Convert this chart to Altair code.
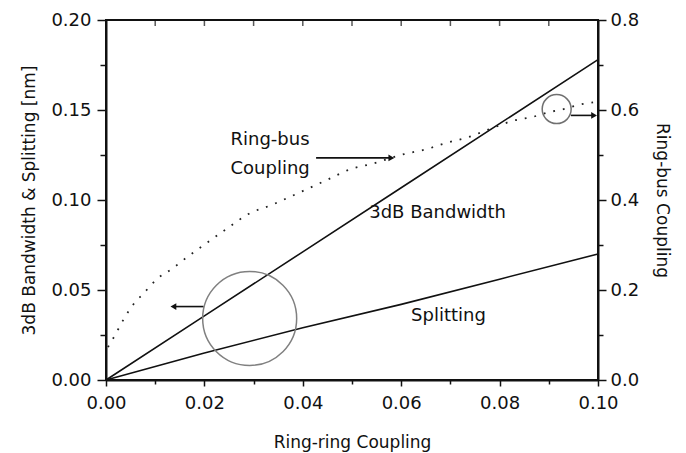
import altair as alt
import pandas as pd

# ---- data ----
coupling = [0.0, 0.02, 0.04, 0.06, 0.08, 0.10]
bandwidth = [0.0, 0.0356, 0.0712, 0.1068, 0.1424, 0.178]
splitting = [0.0, 0.015, 0.029, 0.042, 0.056, 0.070]

rb_x = [0.0004, 0.0018, 0.0037, 0.0057, 0.0076, 0.0104, 0.0134, 0.0167, 0.019,
        0.0253, 0.0288, 0.0339, 0.0376, 0.041, 0.045, 0.0498, 0.0539, 0.0606,
        0.0655, 0.0686, 0.0737, 0.079, 0.083, 0.0865, 0.090, 0.093, 0.0967, 0.099]
rb_y = [0.073, 0.099, 0.137, 0.170, 0.192, 0.225, 0.247, 0.275, 0.293,
        0.342, 0.368, 0.390, 0.408, 0.425, 0.445, 0.469, 0.480, 0.502,
        0.514, 0.525, 0.540, 0.562, 0.577, 0.584, 0.595, 0.602, 0.613, 0.617]

x_major = [0.0, 0.02, 0.04, 0.06, 0.08, 0.10]
x_minor = [0.01, 0.03, 0.05, 0.07, 0.09]
x_top = [0.01, 0.02, 0.03, 0.04, 0.05, 0.06, 0.07, 0.08, 0.09]
yl_major = [0.0, 0.05, 0.10, 0.15, 0.20]
yl_minor = [0.025, 0.075, 0.125, 0.175]
yr_major = [0.0, 0.2, 0.4, 0.6, 0.8]
yr_minor = [0.1, 0.3, 0.5, 0.7]

label_text = ["Ring-bus", "Coupling", "3dB Bandwidth", "Splitting"]
label_x = [0.0253, 0.0253, 0.0535, 0.0620]
label_y = [0.1335, 0.1175, 0.0926, 0.0358]

arrow_x1 = [0.0198, 0.0427, 0.0945]
arrow_x2 = [0.0137, 0.0580, 0.0992]
arrow_y = [0.0408, 0.1234, 0.1470]
arrow_dir = ["triangle-left", "triangle-right", "triangle-right"]

big_circle_x = [0.0292]
big_circle_y = [0.0342]
small_circle_x = [0.0916]
small_circle_y = [0.602]

# ---- tables ----
main = pd.DataFrame({"x": coupling, "bw": bandwidth, "sp": splitting})
rb = pd.DataFrame({"x": rb_x, "rb": rb_y})
labels = pd.DataFrame({"t": label_text, "x": label_x, "y": label_y})
arrows = pd.DataFrame({"x1": arrow_x1, "x2": arrow_x2, "y": arrow_y, "shape": arrow_dir})
bigc = pd.DataFrame({"x": big_circle_x, "y": big_circle_y})
smallc = pd.DataFrame({"x": small_circle_x, "y": small_circle_y})
topticks = pd.DataFrame({"x": x_top})

FONT = "DejaVu Sans"
INK = "#111111"
W, H = 492, 360

xs = alt.Scale(domain=[0, 0.1], nice=False, zero=False)
yls = alt.Scale(domain=[0, 0.2], nice=False, zero=False)
yrs = alt.Scale(domain=[0, 0.8], nice=False, zero=False)


def X(field="x", axis=None):
    return alt.X(f"{field}:Q", scale=xs, axis=axis)


def YL(field, axis=None):
    return alt.Y(f"{field}:Q", scale=yls, axis=axis)


def YR(field, axis=None):
    return alt.Y(f"{field}:Q", scale=yrs, axis=axis)


common_axis = dict(labelFont=FONT, titleFont=FONT, labelColor=INK, titleColor=INK,
                   domainColor=INK, tickColor=INK, titleFontWeight="normal",
                   domainWidth=2, tickWidth=1.5, grid=False, labelFlush=False,
                   labelOverlap=False)

x_axis_main = alt.Axis(values=x_major, format=".2f", orient="bottom", tickSize=6,
                       labelFontSize=18, labelPadding=8, title="Ring-ring Coupling",
                       titleFontSize=17, titlePadding=22, offset=0, **common_axis)
x_axis_minor = alt.Axis(values=x_minor, orient="bottom", tickSize=4, labels=False,
                        domain=False, title=None, offset=0, **common_axis)
yl_axis_main = alt.Axis(values=yl_major, format=".2f", orient="left", tickSize=9,
                        labelFontSize=18, labelPadding=6,
                        title="3dB Bandwidth & Splitting [nm]", titleFontSize=17,
                        titlePadding=12, offset=0, **common_axis)
yl_axis_minor = alt.Axis(values=yl_minor, orient="left", tickSize=6, labels=False,
                         domain=False, title=None, offset=0, **common_axis)
yr_axis_main = alt.Axis(values=yr_major, format=".1f", orient="right", tickSize=8,
                        labelFontSize=18, labelPadding=4, title="Ring-bus Coupling",
                        titleFontSize=17, titlePadding=14, titleAngle=90, offset=0,
                        **common_axis)
yr_axis_minor = alt.Axis(values=yr_minor, orient="right", tickSize=5, labels=False,
                         domain=False, title=None, offset=0, **common_axis)

bw_line = alt.Chart(main).mark_line(color=INK, strokeWidth=1.6).encode(
    x=X("x", x_axis_main), y=YL("bw", yl_axis_main))
sp_line = alt.Chart(main).mark_line(color=INK, strokeWidth=1.6).encode(
    x=X(), y=YL("sp"))
ax_x_minor = alt.Chart(main).mark_point(opacity=0).encode(
    x=X("x", x_axis_minor), y=YL("bw"))
ax_yl_minor = alt.Chart(main).mark_point(opacity=0).encode(
    x=X(), y=YL("bw", yl_axis_minor))

# inward ticks along the top frame
top_ticks = alt.Chart(topticks).mark_tick(color=INK, thickness=1.5, size=5).encode(
    x=X(), y=alt.value(3.5))

rb_line = alt.Chart(rb).mark_line(color="#222222", strokeWidth=1.8,
                                  strokeDash=[1.8, 8], interpolate="monotone").encode(
    x=X(), y=YR("rb", yr_axis_main))
ax_yr_minor = alt.Chart(rb).mark_point(opacity=0).encode(
    x=X(), y=YR("rb", yr_axis_minor))

big_circle = alt.Chart(bigc).mark_point(shape="circle", filled=False, size=8836,
                                        stroke="#808080", strokeWidth=1.5,
                                        opacity=1).encode(x=X(), y=YL("y"))
small_circle = alt.Chart(smallc).mark_point(shape="circle", filled=False, size=840,
                                            stroke="#707070", strokeWidth=1.5,
                                            opacity=1).encode(x=X(), y=YR("y"))

arrow_rules = alt.Chart(arrows).mark_rule(color=INK, strokeWidth=1.6).encode(
    x=X("x1"), x2="x2:Q", y=YL("y"))
arrow_heads = alt.Chart(arrows).mark_point(filled=True, color=INK, size=45,
                                           opacity=1).encode(
    x=X("x2"), y=YL("y"),
    shape=alt.Shape("shape:N", scale=None, legend=None))

texts = alt.Chart(labels).mark_text(font=FONT, fontSize=18, color=INK, align="left",
                                    baseline="middle").encode(
    x=X(), y=YL("y"), text="t:N")

chart = alt.layer(
    bw_line, sp_line, ax_x_minor, ax_yl_minor, top_ticks,
    rb_line, ax_yr_minor, big_circle, small_circle,
    arrow_rules, arrow_heads, texts,
).resolve_scale(x="independent", y="independent").properties(
    width=W, height=H,
    autosize=alt.AutoSizeParams(type="none"),
    padding={"left": 98, "top": 12, "right": 80, "bottom": 73},
    background="white",
).configure_view(stroke=INK, strokeWidth=2)

chart.save("out.html", embed_options={"renderer": "svg", "actions": False})
